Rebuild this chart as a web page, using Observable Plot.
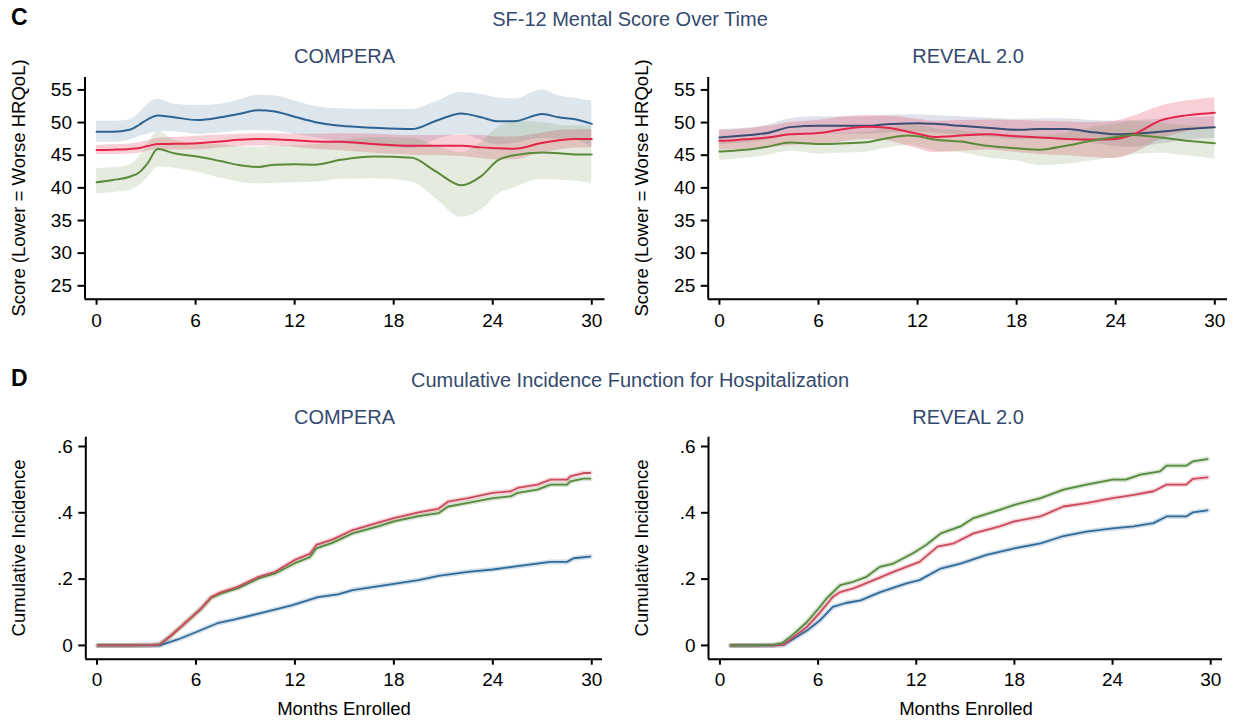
<!DOCTYPE html>
<html><head><meta charset="utf-8">
<script src="https://cdn.jsdelivr.net/npm/d3@7"></script>
<script src="https://cdn.jsdelivr.net/npm/@observablehq/plot@0.6"></script>
<style>
html,body{margin:0;padding:0;background:#fff;}
#fig{position:relative;width:1235px;height:722px;overflow:hidden;background:#fff;font-family:"Liberation Sans",Arial,sans-serif;}
#fig svg{position:absolute;}
</style></head><body><div id="fig"></div>
<script>
// ---------- labels ----------
const panelLetters = ["C", "D"];
const sectionTitles = ["SF-12 Mental Score Over Time", "Cumulative Incidence Function for Hospitalization"];
const registryNames = ["COMPERA", "REVEAL 2.0"];
const yLabels = ["Score (Lower = Worse HRQoL)", "Cumulative Incidence"];
const xLabel = "Months Enrolled";
const xTicks = [0, 6, 12, 18, 24, 30];
const scoreTicks = [25, 30, 35, 40, 45, 50, 55];
const ciTicks = [0, 0.2, 0.4, 0.6];
const ciTickLabels = ["0", ".2", ".4", ".6"];
const groups = ["Blue", "Red", "Green"];

// ---------- SF-12 mental score, COMPERA ----------
const compMonths = [0,1,2,2.6,3.1,3.7,4.7,6.1,7.5,8.6,9.8,10.8,12,13.2,14.8,16.8,19.1,20.5,22.1,23.3,24.3,25.3,27,28,29,30];
const compBlueMean = [48.6,48.6,48.9,49.7,50.5,51.1,50.8,50.4,50.8,51.3,51.9,51.7,50.9,50.1,49.5,49.2,49.0,50.2,51.4,50.8,50.2,50.2,51.3,50.8,50.5,49.8];
const compBlueHi   = [50.2,50.2,50.4,51.5,52.8,53.6,52.8,52.6,52.8,53.4,54.2,54.1,53.3,52.5,52.1,52.0,52.0,53.1,54.6,54.3,53.8,53.6,55.0,54.1,53.7,53.3];
const compBlueLo   = [47.0,47.0,47.3,47.9,48.2,48.6,48.6,48.2,48.4,48.7,48.8,48.7,48.2,47.7,46.9,46.4,46.0,47.3,48.2,47.3,46.6,46.8,47.6,47.5,47.3,46.3];
const compRedMean  = [45.8,45.85,45.95,46.1,46.4,46.7,46.75,46.85,47.1,47.35,47.5,47.45,47.3,47.1,47.05,46.7,46.45,46.45,46.45,46.2,46.05,46.0,46.9,47.3,47.5,47.5];
const compRedHi    = [46.5,46.6,46.7,46.9,47.2,47.6,47.7,47.9,48.1,48.2,48.3,48.3,48.2,48.2,48.3,48.2,48.0,48.0,48.1,48.0,47.8,47.8,48.4,48.8,48.9,48.9];
const compRedLo    = [45.1,45.1,45.2,45.3,45.6,45.8,45.8,45.8,46.1,46.3,46.4,46.4,46.2,45.9,45.7,45.3,45.0,44.9,44.8,44.5,44.3,44.3,45.4,45.8,46.1,46.1];
const compGreenMean= [40.85,41.2,41.7,42.4,43.8,45.95,45.3,44.8,44.1,43.5,43.2,43.55,43.6,43.55,44.3,44.8,44.6,42.6,40.4,41.8,44.2,45.0,45.4,45.3,45.1,45.1];
const compGreenHi  = [42.95,43.1,43.5,44.8,46.6,48.7,47.3,46.8,46.6,46.3,46.2,46.4,46.5,46.6,47.2,47.7,47.6,46.5,45.4,47.0,49.2,50.2,50.0,49.6,49.5,49.5];
const compGreenLo  = [39.1,39.3,39.6,40.4,41.5,43.2,43.0,42.4,41.5,40.9,40.6,40.7,40.8,40.85,41.3,41.4,40.9,38.5,35.5,36.6,39.0,40.0,41.3,41.2,41.0,40.7];

// ---------- SF-12 mental score, REVEAL 2.0 ----------
const revMonths = [0,0.9,1.9,2.9,4.3,6,7.3,8.9,10.15,11.4,12,13,14.6,16.2,18,19.4,21,22.7,24,25.1,26.7,28.3,30];
const revBlueMean = [47.7,47.9,48.1,48.4,49.3,49.5,49.5,49.5,49.75,49.85,49.9,49.8,49.5,49.2,48.9,49.0,49.0,48.5,48.2,48.3,48.6,49.0,49.3];
const revBlueHi   = [48.9,49.0,49.2,49.6,50.6,50.9,50.9,50.9,51.1,51.2,51.2,51.1,50.9,50.7,50.5,50.6,50.6,50.3,50.2,50.3,50.5,50.7,50.9];
const revBlueLo   = [46.6,46.8,47.0,47.3,48.1,48.2,48.2,48.2,48.4,48.5,48.5,48.4,48.1,47.8,47.4,47.5,47.4,46.8,46.3,46.2,46.7,47.3,47.6];
const revRedMean  = [47.2,47.3,47.5,47.7,48.2,48.4,48.9,49.35,49.2,48.6,48.3,47.8,48.0,48.2,47.9,47.7,47.5,47.4,47.5,48.2,50.3,51.1,51.5];
const revRedHi    = [48.8,48.9,49.1,49.4,50.0,50.3,50.8,51.1,51.0,50.7,50.5,50.2,50.3,50.4,50.3,50.2,50.1,50.0,50.2,51.0,52.5,53.3,53.8];
const revRedLo    = [45.8,45.8,46.0,46.1,46.5,46.6,47.0,47.4,47.2,46.4,46.0,45.4,45.6,45.8,45.4,45.1,44.9,44.6,44.5,45.3,47.4,48.6,49.2];
const revGreenMean= [45.55,45.7,45.9,46.3,46.95,46.7,46.8,47.0,47.6,48.0,47.9,47.4,47.1,46.45,46.05,45.85,46.45,47.3,47.8,48.1,47.7,47.2,46.85];
const revGreenHi  = [46.9,47.0,47.2,47.6,48.3,48.2,48.3,48.5,49.1,49.5,49.5,49.1,48.8,48.3,48.0,47.9,48.4,49.3,49.8,50.2,49.9,49.5,49.3];
const revGreenLo  = [44.2,44.4,44.6,45.0,45.6,45.2,45.3,45.5,46.1,46.5,46.3,45.7,45.4,44.6,44.1,43.4,43.6,44.2,44.6,45.1,45.3,44.9,44.4];

// ---------- Cumulative incidence of hospitalization, COMPERA ----------
const ciCompRedMonths = [0.06,1.88,3.3,3.8,4.5,5.3,6.3,6.93,7.5,8.55,9.8,10.8,12,12.9,13.3,14.3,15.5,17.1,18,19.5,20.7,21.3,22.5,24,25.1,25.5,26.7,27.5,28.5,28.7,29.5,29.9];
const ciCompRed   = [0,0,0.001,0.003,0.03,0.066,0.111,0.146,0.16,0.177,0.207,0.222,0.258,0.276,0.303,0.32,0.348,0.371,0.384,0.401,0.412,0.434,0.444,0.46,0.465,0.475,0.485,0.5,0.5,0.51,0.52,0.52];
const ciCompGreen = [0,0,0.001,0.003,0.03,0.066,0.11,0.144,0.156,0.173,0.202,0.217,0.248,0.266,0.293,0.31,0.338,0.36,0.374,0.39,0.399,0.419,0.43,0.444,0.45,0.46,0.47,0.485,0.485,0.495,0.503,0.503];
const ciCompBlueMonths = [0.06,3.8,4.9,6.1,7.3,8.3,9.8,11.8,13.4,14.6,15.5,17.5,19.5,20.7,22.5,24,25.5,27.5,28.5,28.9,29.9];
const ciCompBlue  = [0,0,0.018,0.042,0.067,0.078,0.096,0.121,0.146,0.154,0.167,0.182,0.197,0.21,0.222,0.229,0.239,0.252,0.252,0.263,0.268];

// ---------- Cumulative incidence of hospitalization, REVEAL 2.0 ----------
const ciRevGreenMonths = [0.67,1.9,3.3,3.83,4.5,5.3,6.1,6.5,7.35,8.15,8.96,9.77,10.6,11.8,12.6,13.5,14.7,15.5,17.1,18,19.6,21,22.4,24,24.8,25.7,26.9,27.3,28.5,28.9,29.8];
const ciRevGreen = [0,0,0.002,0.008,0.034,0.07,0.116,0.141,0.182,0.192,0.207,0.237,0.247,0.278,0.303,0.338,0.359,0.384,0.409,0.424,0.444,0.47,0.485,0.5,0.5,0.515,0.525,0.542,0.542,0.555,0.562];
const ciRevRedMonths = [0.67,3.3,3.9,5.3,6.1,6.9,7.35,8.15,9.4,10.6,12.2,13.3,14.3,15.5,17.1,18,19.6,21,22.4,24,25.3,26.5,27.3,28.5,28.9,29.8];
const ciRevRed = [0,0,0.003,0.055,0.098,0.146,0.161,0.172,0.197,0.222,0.252,0.298,0.308,0.338,0.359,0.374,0.389,0.419,0.429,0.444,0.454,0.465,0.485,0.485,0.502,0.507];
const ciRevBlueMonths = [0.67,3.3,3.9,5.3,6.1,6.9,7.7,8.6,9.8,11.4,12.2,13.5,14.7,16.3,18,19.6,21,22.4,24,25.3,26.5,27.3,28.5,28.9,29.8];
const ciRevBlue = [0,0,0.002,0.044,0.075,0.116,0.128,0.136,0.161,0.187,0.197,0.232,0.247,0.273,0.293,0.308,0.33,0.343,0.353,0.359,0.369,0.389,0.389,0.401,0.407];

// ---------- build ----------
const fig = document.getElementById("fig");
const FONT = '"Liberation Sans", Arial, Helvetica, sans-serif';
const TITLE_COLOR = "#34496e";

function bandTable(months, mean, lo, hi, group) {
  return months.map((m, i) => ({month: m, mean: mean[i], lo: lo[i], hi: hi[i], group}));
}
function curveTable(months, values, group) {
  return months.map((m, i) => ({month: m, value: values[i], group}));
}

function panel(o) {
  const svg = Plot.plot({
    width: o.width, height: o.height,
    marginLeft: o.mL, marginRight: o.mR, marginTop: o.mT, marginBottom: o.mB,
    x: {domain: o.xDomain},
    y: {domain: o.yDomain},
    style: {fontFamily: FONT, fontSize: "19px", color: "#000", background: "transparent", overflow: "visible"},
    marks: [
      ...o.marks,
      Plot.ruleY([o.yDomain[0]], {stroke: "#000", strokeWidth: 2}),
      Plot.ruleX([o.xDomain[0]], {stroke: "#000", strokeWidth: 2}),
      Plot.axisX({ticks: xTicks, tickSize: 6, tickPadding: o.xPad, tickFormat: d => String(d), label: null, fontSize: 19, strokeWidth: 2}),
      Plot.axisY({ticks: o.yTicks, tickSize: 7, tickPadding: 6, tickFormat: o.yFormat, label: null, fontSize: 19, strokeWidth: 2})
    ]
  });
  svg.style.left = o.left + "px";
  svg.style.top = o.top + "px";
  fig.appendChild(svg);
}

function scoreMarks(tables, colors) {
  const opac = {Blue: 0.16, Red: 0.22, Green: 0.16};
  const marks = [];
  tables.forEach(t => marks.push(Plot.areaY(t, {x: "month", y1: "lo", y2: "hi", fill: colors[t[0].group], fillOpacity: opac[t[0].group], curve: "monotone-x"})));
  tables.forEach(t => marks.push(Plot.line(t, {x: "month", y: "mean", stroke: colors[t[0].group], strokeWidth: 2, curve: "monotone-x"})));
  return marks;
}
function ciMarks(tables, colors) {
  const marks = [];
  tables.forEach(t => marks.push(Plot.line(t, {x: "month", y: "value", stroke: colors[t[0].group], strokeWidth: 5, strokeOpacity: 0.22})));
  tables.forEach(t => marks.push(Plot.line(t, {x: "month", y: "value", stroke: colors[t[0].group], strokeWidth: 1.8})));
  return marks;
}

const compColors = {Blue: "#2d6491", Red: "#e4254a", Green: "#5b8a3b"};
const revColors = {Blue: "#3b4d72", Red: "#e4254a", Green: "#5b8a3b"};
const ciColors = {Blue: "#2f6a9a", Red: "#cc4a5c", Green: "#548a3c"};

const scoreY = [22.95, 56.9];
const ciY = [-0.0415, 0.628];
const ciFmt = d => ciTickLabels[ciTicks.indexOf(d)];

panel({left: 0, top: 40, width: 617, height: 300, mL: 84.5, mR: 12.5, mT: 37, mB: 41.3,
  xDomain: [-0.7, 30.8], yDomain: scoreY, yTicks: scoreTicks, yFormat: d => String(d), xPad: 8,
  marks: scoreMarks([
    bandTable(compMonths, compBlueMean, compBlueLo, compBlueHi, "Blue"),
    bandTable(compMonths, compRedMean, compRedLo, compRedHi, "Red"),
    bandTable(compMonths, compGreenMean, compGreenLo, compGreenHi, "Green")], compColors)});

panel({left: 617, top: 40, width: 618, height: 300, mL: 90.7, mR: 8, mT: 37, mB: 41.3,
  xDomain: [-0.68, 30.77], yDomain: scoreY, yTicks: scoreTicks, yFormat: d => String(d), xPad: 8,
  marks: scoreMarks([
    bandTable(revMonths, revBlueMean, revBlueLo, revBlueHi, "Blue"),
    bandTable(revMonths, revRedMean, revRedLo, revRedHi, "Red"),
    bandTable(revMonths, revGreenMean, revGreenLo, revGreenHi, "Green")], revColors)});

panel({left: 0, top: 400, width: 617, height: 322, mL: 85.3, mR: 15, mT: 36.7, mB: 63.3,
  xDomain: [-0.68, 30.65], yDomain: ciY, yTicks: ciTicks, yFormat: ciFmt, xPad: 7,
  marks: ciMarks([
    curveTable(ciCompBlueMonths, ciCompBlue, "Blue"),
    curveTable(ciCompRedMonths, ciCompGreen, "Green"),
    curveTable(ciCompRedMonths, ciCompRed, "Red")], ciColors)});

panel({left: 617, top: 400, width: 618, height: 322, mL: 91, mR: 13, mT: 36.7, mB: 63.3,
  xDomain: [-0.7, 30.72], yDomain: ciY, yTicks: ciTicks, yFormat: ciFmt, xPad: 7,
  marks: ciMarks([
    curveTable(ciRevBlueMonths, ciRevBlue, "Blue"),
    curveTable(ciRevRedMonths, ciRevRed, "Red"),
    curveTable(ciRevGreenMonths, ciRevGreen, "Green")], ciColors)});

// ---------- text overlay ----------
const ov = d3.select(fig).append("svg")
  .attr("width", 1235).attr("height", 722)
  .style("left", "0px").style("top", "0px").style("pointer-events", "none")
  .attr("font-family", FONT);

function txt(s, x, y, size, opts = {}) {
  const t = ov.append("text").attr("x", x).attr("y", y)
    .attr("font-size", size)
    .attr("text-anchor", opts.anchor || "start")
    .attr("font-weight", opts.weight || "normal")
    .attr("fill", opts.fill || "#000")
    .text(s);
  if (opts.rotate) t.attr("transform", `rotate(-90 ${x} ${y})`);
  return t;
}

[0, 361].forEach((dy, r) => {
  txt(panelLetters[r], 11, 25 + dy, 23, {weight: "bold"});
  txt(sectionTitles[r], 630, 26 + dy, 20, {anchor: "middle", fill: TITLE_COLOR});
  txt(registryNames[0], 344.5, 63 + dy, 20, {anchor: "middle", fill: TITLE_COLOR});
  txt(registryNames[1], 968, 63 + dy, 20, {anchor: "middle", fill: TITLE_COLOR});
});
txt(yLabels[0], 25, 188, 18.5, {anchor: "middle", rotate: true});
txt(yLabels[0], 648, 188, 18.5, {anchor: "middle", rotate: true});
txt(yLabels[1], 25, 548, 18.5, {anchor: "middle", rotate: true});
txt(yLabels[1], 648, 548, 18.5, {anchor: "middle", rotate: true});
txt(xLabel, 344, 715, 18.5, {anchor: "middle"});
txt(xLabel, 966, 715, 18.5, {anchor: "middle"});
</script></body></html>
